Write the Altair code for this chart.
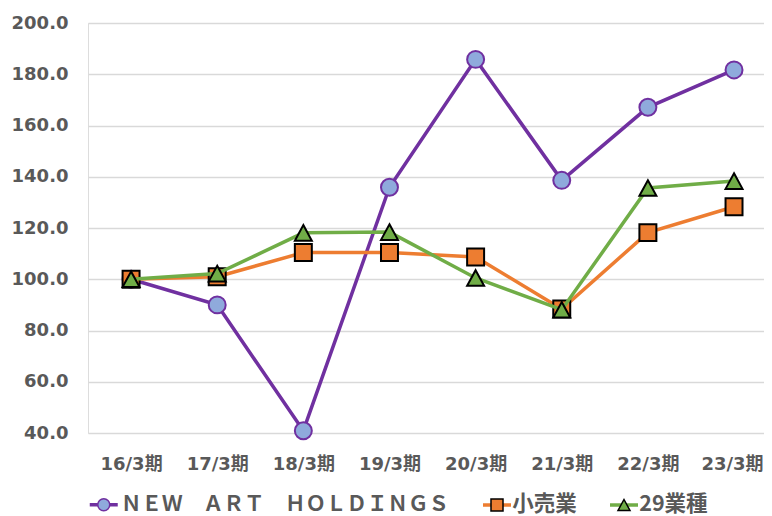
import altair as alt
import pandas as pd

# ---- data ----
periods = ["16/3期", "17/3期", "18/3期", "19/3期", "20/3期", "21/3期", "22/3期", "23/3期"]
series_names = ["ＮＥＷ　ＡＲＴ　ＨＯＬＤＩＮＧＳ", "小売業", "29業種"]
new_art = [100.0, 90.0, 40.9, 135.9, 185.8, 138.6, 167.1, 181.7]
retail = [100.0, 101.0, 110.4, 110.4, 108.7, 88.4, 118.2, 128.3]
industry29 = [100.0, 102.2, 118.1, 118.4, 100.5, 88.1, 135.6, 138.3]

# ---- styles ----
line_colors = ["#7030A0", "#ED7D31", "#70AD47"]
marker_fills = ["#8FAADC", "#ED7D31", "#70AD47"]
marker_strokes = ["#7030A0", "#000000", "#000000"]
marker_paths = [
    "M-1.2,0A1.2,1.2 0 1,1 1.2,0A1.2,1.2 0 1,1 -1.2,0Z",
    "M-1.2,-1.2H1.2V1.2H-1.2Z",
    "M0,-1.1L1.2,1.1L-1.2,1.1Z",
]
legend_font_sizes = [20.5, 21.5, 21.5]
legend_symbol_centers = [104, 497, 624]   # legend symbol centres (page px)
legend_label_offsets = [7, 4.5, 4.5]
legend_center_y = 505

PLOT_LEFT, PLOT_TOP = 88, 23

rows = []
for k, (name, vals) in enumerate(zip(series_names, [new_art, retail, industry29])):
    for i, v in enumerate(vals):
        rows.append({"series": name, "series_m": name, "order": k, "idx": i, "value": v})
df = pd.DataFrame(rows)

label_js = "[" + ",".join('"%s"' % p for p in periods) + "]"
last_idx = len(periods) - 1

x_enc = alt.X(
    "idx:Q",
    scale=alt.Scale(domain=[-0.5, 7.348], nice=False, zero=False),
    axis=alt.Axis(
        title=None, values=list(range(len(periods))), labelExpr=label_js + "[datum.value]",
        grid=False, domain=False, ticks=False, tickSize=0, labelPadding=22,
        labelFlush=False, labelOverlap=False,
        labelOffset={"condition": {"test": "datum.value == %d" % last_idx, "value": -2}, "value": 0},
        labelFont="DejaVu Sans, Noto Sans CJK JP", labelFontSize=18, labelFontWeight="bold",
        labelColor="#595959",
    ),
)
y_enc = alt.Y(
    "value:Q",
    scale=alt.Scale(domain=[40, 200], nice=False, zero=False),
    axis=alt.Axis(
        title=None, values=[40, 60, 80, 100, 120, 140, 160, 180, 200], format=".1f",
        grid=True, gridColor="#D9D9D9", gridWidth=1.3, domain=False, ticks=False, tickSize=0,
        labelPadding=20, labelFont="DejaVu Sans", labelFontSize=18, labelFontWeight="bold",
        labelColor="#595959",
    ),
)

layers = []
for k, name in enumerate(series_names):
    fs = legend_font_sizes[k]
    entry = max(21, fs)
    common = dict(
        orient="none", direction="horizontal", padding=0, title=None,
        legendX=legend_symbol_centers[k] - entry / 2 - PLOT_LEFT,
        legendY=legend_center_y - entry / 2 - PLOT_TOP,
        labelFont="Noto Sans CJK JP", labelFontSize=fs, labelFontWeight="bold",
        labelColor="#595959", labelLimit=0, labelOffset=legend_label_offsets[k],
    )
    sub = alt.Chart(df).transform_filter(alt.datum.order == k)
    line = sub.mark_line(strokeWidth=3.5).encode(
        x=x_enc, y=y_enc,
        color=alt.Color("series:N", scale=alt.Scale(range=[line_colors[k]]),
                        legend=alt.Legend(symbolType="M-2,0H2", symbolSize=196,
                                          symbolStrokeWidth=3.5, **common)),
    )
    mlegend = alt.Legend(symbolSize=100, symbolStrokeWidth=1.5, labelOpacity=0, **common)
    pts = sub.mark_point(filled=True, size=200, strokeWidth=2, opacity=1).encode(
        x=x_enc, y=y_enc,
        shape=alt.Shape("series_m:N", scale=alt.Scale(range=[marker_paths[k]]), legend=mlegend),
        fill=alt.Fill("series_m:N", scale=alt.Scale(range=[marker_fills[k]]), legend=mlegend),
        stroke=alt.Stroke("series_m:N", scale=alt.Scale(range=[marker_strokes[k]]), legend=mlegend),
    )
    layers += [line, pts]

chart = alt.layer(*layers).resolve_scale(
    color="independent", shape="independent", fill="independent", stroke="independent"
).properties(
    width=676, height=410,
    autosize=alt.AutoSizeParams(type="none"),
    padding={"left": 80, "top": 15, "right": 0, "bottom": 90},
).configure_view(stroke=None).configure(background="white")

chart.save("out.html", embed_options={"renderer": "svg", "actions": False})
